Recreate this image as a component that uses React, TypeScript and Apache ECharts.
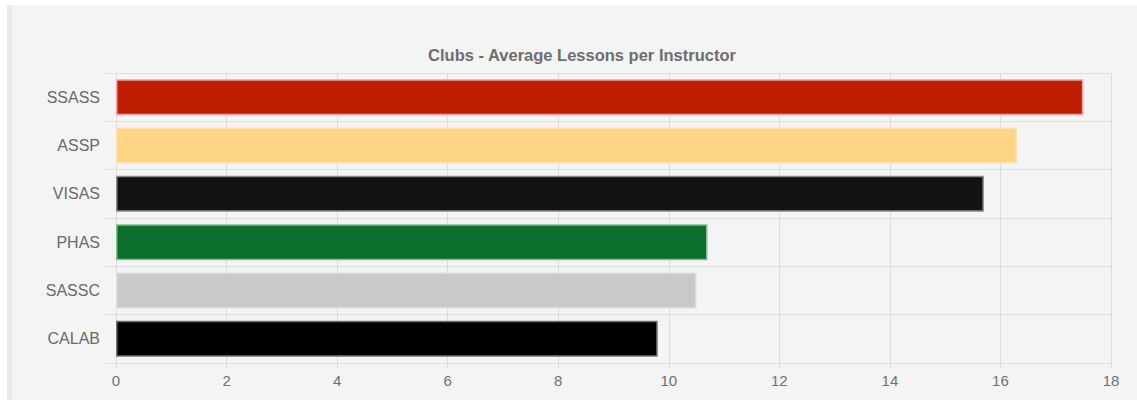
import React, { useEffect, useRef } from "react";
import * as echarts from "echarts";

const categories = ["SSASS", "ASSP", "VISAS", "PHAS", "SASSC", "CALAB"];
const values = [17.5, 16.3, 15.7, 10.7, 10.5, 9.8];
const barColors = ["#bf1f00", "#fdd584", "#121212", "#0b6e2c", "#c9c9c9", "#000000"];
const borderColors = ["#f2a0a0", "#fde2b0", "#8a8a8a", "#7fc08f", "#dcdcdc", "#707070"];
const xTicks = [0, 2, 4, 6, 8, 10, 12, 14, 16, 18];
const title = "Clubs - Average Lessons per Instructor";

export default function App() {
  const ref = useRef<HTMLDivElement>(null);
  useEffect(() => {
    if (!ref.current) return;
    const chart = echarts.init(ref.current, undefined, { renderer: "svg" });
    const font = "'Liberation Sans', Arial, Helvetica, sans-serif";
    chart.setOption({
      animation: false,
      backgroundColor: "#ffffff",
      graphic: [
        { type: "rect", z: -10, shape: { x: 7, y: 5, width: 1130, height: 395 }, style: { fill: "#f4f4f4" } },
        { type: "rect", z: -9, shape: { x: 7, y: 5, width: 5, height: 395 }, style: { fill: "#e9e9e9" } },
      ],
      title: {
        text: title,
        left: 577,
        textAlign: "center",
        top: 41,
        textStyle: { fontFamily: font, fontSize: 16.5, fontWeight: "bold", color: "#6e6e6e" },
      },
      grid: { left: 116, right: 26, top: 73, bottom: 37, containLabel: false },
      xAxis: {
        type: "value",
        min: xTicks[0],
        max: xTicks[xTicks.length - 1],
        interval: 2,
        axisLine: { show: false },
        axisTick: { show: true, length: 6, lineStyle: { color: "#dddddd" } },
        axisLabel: { color: "#707070", fontFamily: font, fontSize: 15, margin: 10 },
        splitLine: { show: true, lineStyle: { color: "#dddddd", width: 1 } },
      },
      yAxis: {
        type: "category",
        data: categories,
        inverse: true,
        axisLine: { show: true, lineStyle: { color: "#dddddd" } },
        axisTick: { show: true, length: 11, lineStyle: { color: "#dddddd" } },
        axisLabel: { color: "#6a6a6a", fontFamily: font, fontSize: 16, margin: 16 },
        splitLine: { show: true, lineStyle: { color: "#dddddd", width: 1 } },
      },
      series: [
        {
          type: "bar",
          barWidth: 36,
          data: values.map((v, i) => ({
            value: v,
            itemStyle: { color: barColors[i], borderColor: borderColors[i], borderWidth: 1.5 },
          })),
        },
      ],
    });
    return () => chart.dispose();
  }, []);
  return (
    <div
      ref={ref}
      style={{ position: "fixed", left: 0, top: 0, width: 1137, height: 400 }}
    />
  );
}
